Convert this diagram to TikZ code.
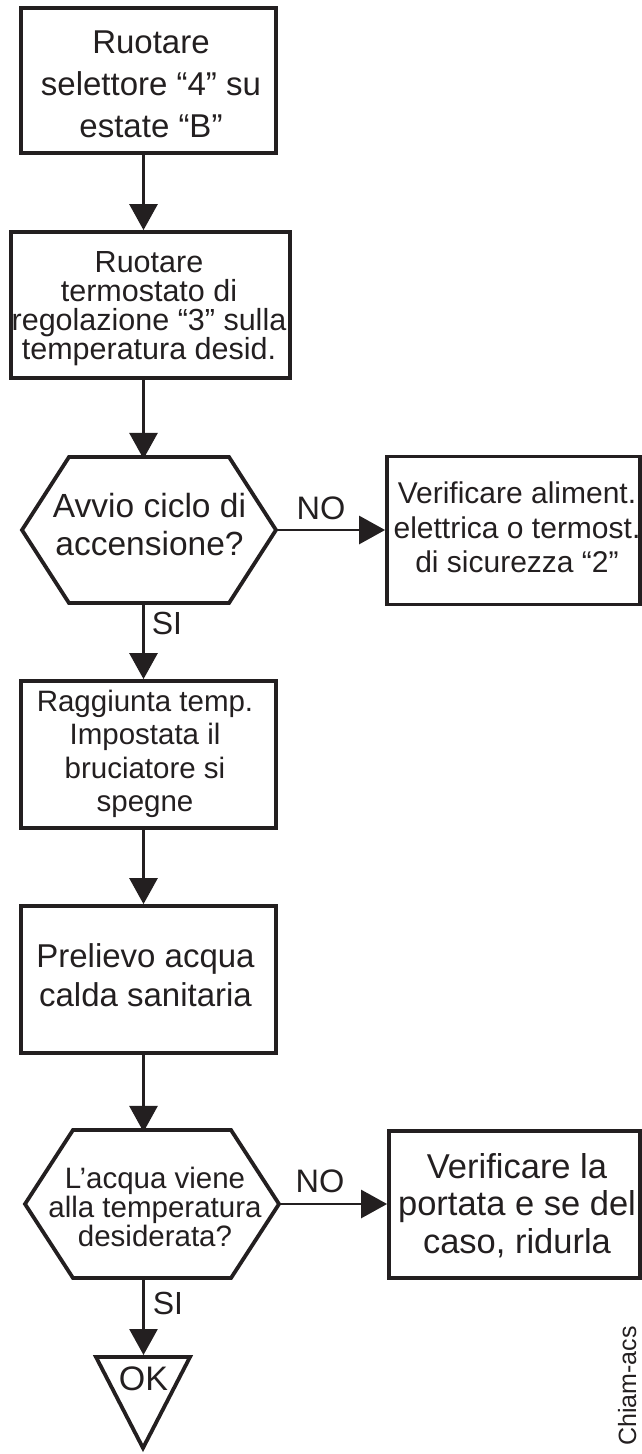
\documentclass[tikz,border=0pt]{standalone}
\usepackage{fontspec}
\setmainfont{Liberation Sans}
\usetikzlibrary{arrows.meta}
\definecolor{ink}{RGB}{35,31,32}
\newcommand\hexpath[2]{\draw[shapeline] (#1.west) -- ([xshift=#2]#1.north west) -- ([xshift=-#2]#1.north east) -- (#1.east) -- ([xshift=-#2]#1.south east) -- ([xshift=#2]#1.south west) -- cycle;}
\begin{document}
\begin{tikzpicture}[x=1pt,y=-1pt,
  shapeline/.style={draw=ink, line width=3.8pt, line join=miter},
  boxnode/.style={shapeline, rectangle, inner sep=0pt},
  hexnode/.style={rectangle, inner sep=0pt, outer sep=0pt},
  txt/.style={inner sep=0pt, align=center, anchor=north, text=ink},
  lbl/.style={inner sep=0pt, anchor=north, text=ink, font=\fontsize{32.5}{38}\selectfont},
  arr/.style={draw=ink, line width=2.8pt, -{Triangle[length=26pt,width=28pt]}}]
\useasboundingbox (0,0) rectangle (642,1454);
\clip (0,0) rectangle (642,1454);
\coordinate (col) at (143.5,0);
% shapes
\node[boxnode, minimum width=255pt, minimum height=145pt] (b1) at (148.5,80.5) {};
\node[boxnode, minimum width=279pt, minimum height=146pt] (b2) at (150.5,305) {};
\node[hexnode, minimum width=254pt, minimum height=146pt] (h1) at (149,530) {};
\hexpath{h1}{47pt}
\node[boxnode, minimum width=253pt, minimum height=148pt] (rb1) at (513.5,530.5) {};
\node[boxnode, minimum width=255pt, minimum height=147pt] (b3) at (148.5,754.5) {};
\node[boxnode, minimum width=255pt, minimum height=147pt] (b4) at (148.5,979.5) {};
\node[hexnode, minimum width=254pt, minimum height=148pt] (h2) at (152,1204) {};
\hexpath{h2}{48pt}
\node[boxnode, minimum width=251pt, minimum height=147pt] (rb2) at (514.5,1204.5) {};
\coordinate (tl) at (96,1357);
\coordinate (tr) at (190,1357);
\coordinate (tb) at (143,1448);
\coordinate (tritop) at (143.5,1355);
\draw[shapeline] (tl) -- (tr) -- (tb) -- cycle;
% texts
\node[txt, font=\fontsize{33}{42}\selectfont] (t1) at (151,31) {Ruotare\\selettore “4” su\\estate “B”};
\node[txt, font=\fontsize{30.5}{29}\selectfont] (t2) at (149,251) {Ruotare\\termostato di\\regolazione “3” sulla\\temperatura desid.};
\node[txt, font=\fontsize{33.5}{38}\selectfont] (t3) at (149.5,493) {Avvio ciclo di\\accensione?};
\node[txt, font=\fontsize{30}{34.5}\selectfont] (t4) at (517,482) {Verificare aliment.\\elettrica o termost.\\di sicurezza “2”};
\node[txt, font=\fontsize{29.5}{33.3}\selectfont] (t5) at (145,690) {Raggiunta temp.\\Impostata il\\bruciatore si\\spegne};
\node[txt, font=\fontsize{33}{39}\selectfont] (t6) at (145.5,943) {Prelievo acqua\\calda sanitaria};
\node[txt, font=\fontsize{29.5}{29}\selectfont] (t7) at (155,1167) {L’acqua viene\\alla temperatura\\desiderata?};
\node[txt, font=\fontsize{34.5}{37.5}\selectfont] (t8) at (517,1153) {Verificare la\\portata e se del\\caso, ridurla};
\node[txt, font=\fontsize{34}{38}\selectfont] (ok) at (143.5,1367) {OK};
\node[lbl] (no1) at (321,497) {NO};
\node[lbl] (no2) at (320,1170) {NO};
\node[lbl, font=\fontsize{32}{38}\selectfont] (si1) at (167,612) {SI};
\node[lbl, font=\fontsize{32}{38}\selectfont] (si2) at (168,1292) {SI};
\node[rotate=90, anchor=base west, inner sep=0pt, text=ink, font=\fontsize{25}{30}\selectfont] (chiam) at (636,1446) {Chiam-acs};
% connectors
\draw[arr] (b1.south -| col) -- (b2.north -| col);
\draw[arr, shorten >=-1.9pt] (b2.south -| col) -- (h1.north -| col);
\draw[arr] (h1.east) -- (h1.east -| rb1.west);
\draw[arr] (h1.south -| col) -- (b3.north -| col);
\draw[arr] (b3.south -| col) -- (b4.north -| col);
\draw[arr, shorten >=-1.9pt] (b4.south -| col) -- (h2.north -| col);
\draw[arr] (h2.east) -- (h2.east -| rb2.west);
\draw[arr] (h2.south -| col) -- (tritop);
\end{tikzpicture}
\end{document}
